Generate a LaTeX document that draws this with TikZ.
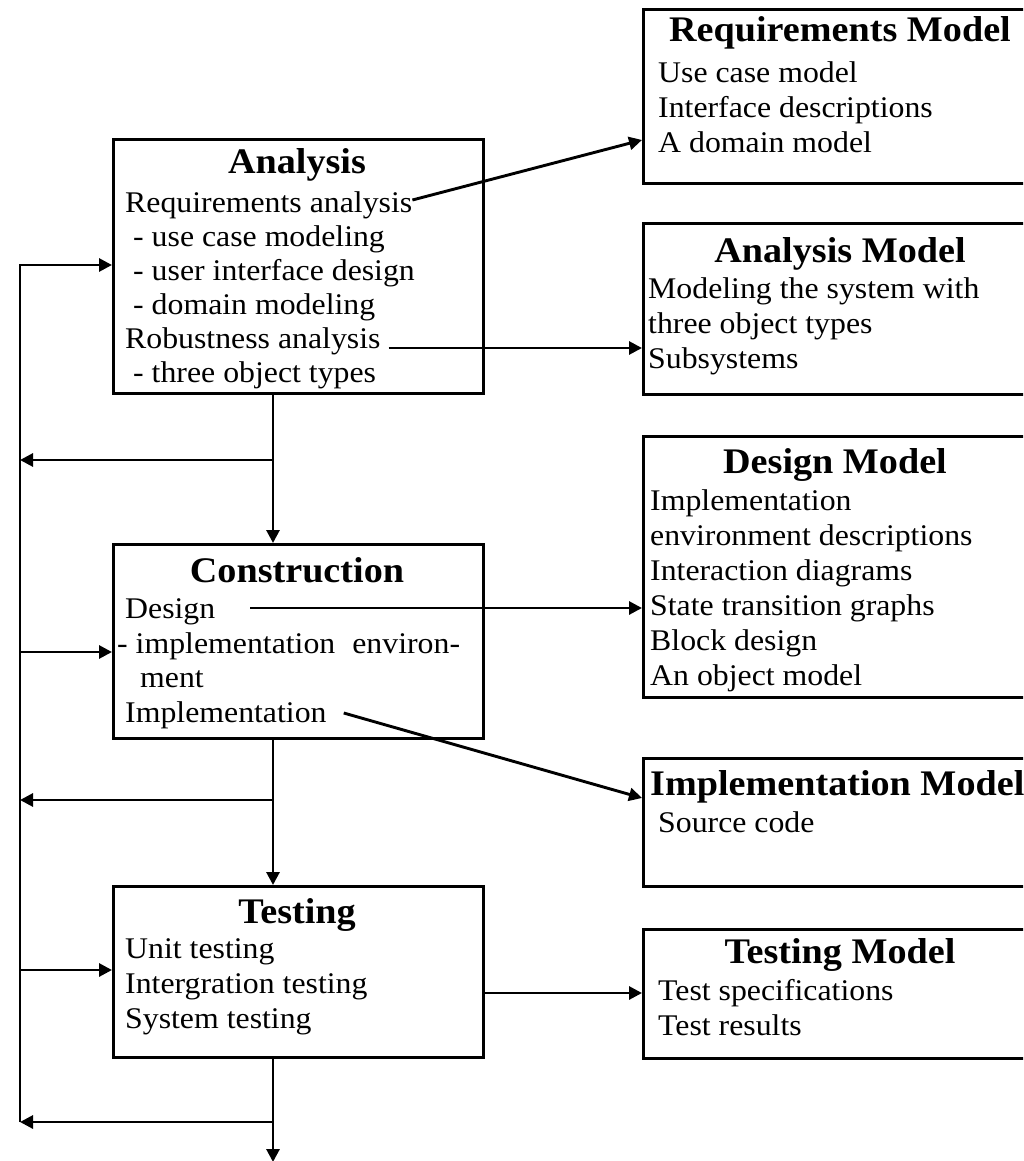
\documentclass[tikz,border=0pt]{standalone}
\usepackage{fontspec}
\setmainfont{Liberation Serif}[FakeStretch=1.06]
\usetikzlibrary{arrows.meta}
\begin{document}
\begin{tikzpicture}[x=1pt,y=-1pt,
  box/.style={draw,line width=3.3pt,anchor=north west,inner sep=0pt,rectangle},
  txt/.style={anchor=base west,inner sep=0pt,font=\fontsize{30}{35}\selectfont},
  ttl/.style={anchor=base,inner sep=0pt,font=\fontsize{36}{40}\selectfont\bfseries},
  wire/.style={line width=2.9pt},
  arr/.style={wire,-{Triangle[length=13pt,width=13pt]}},
]
\useasboundingbox (0,0) rectangle (1023,1161);
\clip (0,0) rectangle (1023,1161);

% ---------- process boxes (left column) ----------
\node[box,minimum width=370pt,minimum height=254pt] (ana) at (112,138) {};
\node[box,minimum width=370pt,minimum height=194pt] (con) at (112,543) {};
\node[box,minimum width=370pt,minimum height=171pt] (tst) at (112,885) {};

% ---------- model boxes (right column) ----------
\node[box,minimum width=420pt,minimum height=174pt] (reqm) at (642,8) {};
\node[box,minimum width=420pt,minimum height=171pt] (anam) at (642,222) {};
\node[box,minimum width=420pt,minimum height=261pt] (desm) at (642,435) {};
\node[box,minimum width=420pt,minimum height=128pt] (impm) at (642,757) {};
\node[box,minimum width=420pt,minimum height=129pt] (tstm) at (642,928) {};

% ---------- Analysis ----------
\node[ttl] (anat) at (297,174) {Analysis};
\node[txt] (reqa) at (125,212) {Requirements analysis};
\node[txt] (uc)   at (133,246) {- use case modeling};
\node[txt] (ui)   at (133,280) {- user interface design};
\node[txt] (dm)   at (133,314) {- domain modeling};
\node[txt] (rob)  at (125,348) {Robustness analysis};
\node[txt] (tot)  at (133,382) {- three object types};

% ---------- Construction ----------
\node[ttl] (cont) at (297,582) {Construction};
\node[txt] (des)  at (125,618) {Design};
\node[txt] (ienv) at (117,653) {- implementation\hspace{17pt}environ-};
\node[txt] (ment) at (140,687) {ment};
\node[txt] (impl) at (125,722) {Implementation};

% ---------- Testing ----------
\node[ttl] (tstt) at (297,923) {Testing};
\node[txt] (unit) at (125,958) {Unit testing};
\node[txt] (intg) at (125,993) {Intergration testing};
\node[txt] (syst) at (125,1028) {System testing};

% ---------- Requirements Model ----------
\node[ttl] (reqmt) at (840,42) {Requirements Model};
\node[txt] (rm1) at (658,83)  {Use case model};
\node[txt] (rm2) at (658,118) {Interface descriptions};
\node[txt] (rm3) at (658,153) {A domain model};

% ---------- Analysis Model ----------
\node[ttl] (anamt) at (840,262) {Analysis Model};
\node[txt] (am1) at (648,298) {Modeling the system with};
\node[txt] (am2) at (648,333) {three object types};
\node[txt] (am3) at (648,368) {Subsystems};

% ---------- Design Model ----------
\node[ttl] (desmt) at (835,473) {Design Model};
\node[txt] (dm1) at (650,510) {Implementation};
\node[txt] (dm2) at (650,545) {environment descriptions};
\node[txt] (dm3) at (650,580) {Interaction diagrams};
\node[txt] (dm4) at (650,615) {State transition graphs};
\node[txt] (dm5) at (650,650) {Block design};
\node[txt] (dm6) at (650,685) {An object model};

% ---------- Implementation Model ----------
\node[ttl,anchor=base west] (impmt) at (650,795) {Implementation Model};
\node[txt] (im1) at (658,832) {Source code};

% ---------- Testing Model ----------
\node[ttl] (tstmt) at (840,963) {Testing Model};
\node[txt] (tm1) at (658,1000) {Test specifications};
\node[txt] (tm2) at (658,1035) {Test results};

% ---------- activities to models ----------
\draw[arr] ([yshift=12pt]reqa.base east) -- ([yshift=-132pt]reqm.north west);
\draw[arr] ([xshift=8pt]rob.base east) -- (rob.base -| anam.west);
\coordinate (dstart) at ([xshift=35pt,yshift=10pt]des.base east);
\draw[arr] (dstart) -- (dstart -| desm.west);
\draw[arr] ([xshift=17pt,yshift=9pt]impl.base east) -- ([yshift=-41pt]impm.north west);
\draw[arr] (tst.east |- intg.base) -- (tstm.west |- intg.base);

% ---------- main flow and feedback loop ----------
\coordinate (s0) at (20,265);
\coordinate (s1) at (20,652);
\coordinate (s2) at (20,970);
\coordinate (s3) at (20,1122);
\coordinate (b1) at (273,460);
\coordinate (b2) at (273,800);
\coordinate (b3) at (273,1122);
\coordinate (bend) at (273,1162);

\draw[arr] (s3) -- (s0) -- (s0 -| ana.west);
\draw[arr] (s1) -- (s1 -| con.west);
\draw[arr] (s2) -- (s2 -| tst.west);

\draw[arr] (ana.south -| b1) -- (con.north -| b1);
\draw[arr] (b1) -- (b1 -| s0);
\draw[arr] (con.south -| b1) -- (tst.north -| b1);
\draw[arr] (b2) -- (b2 -| s0);
\draw[arr] (tst.south -| b1) -- (bend);
\draw[arr] (b3) -- (b3 -| s0);
\end{tikzpicture}
\end{document}
